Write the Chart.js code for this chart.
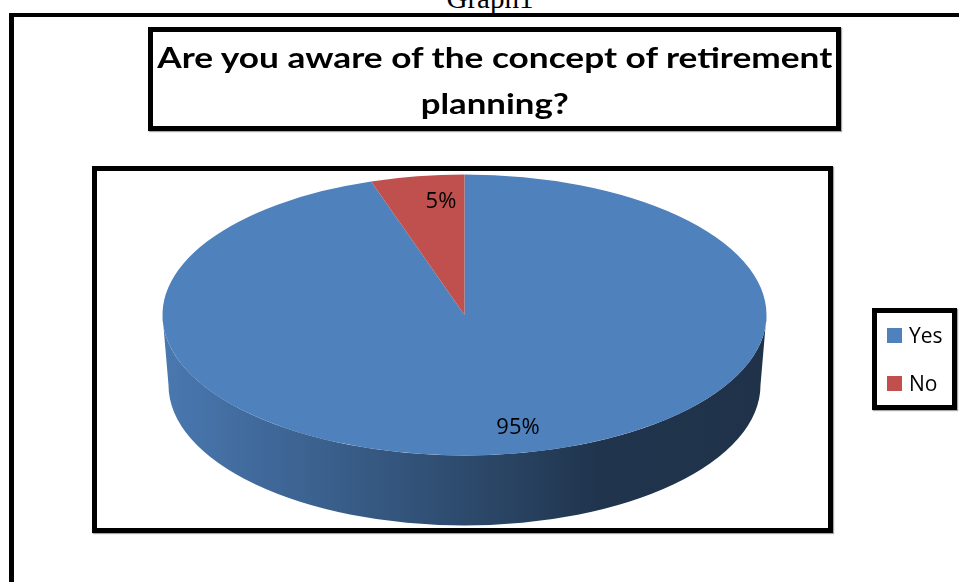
<!DOCTYPE html>
<html>
<head>
<meta charset="utf-8">
<script src="https://cdn.jsdelivr.net/npm/chart.js@4.4.1/dist/chart.umd.min.js"></script>
<style>
  html, body { margin: 0; padding: 0; background: #fff; }
  body { width: 959px; height: 582px; position: relative; overflow: hidden; font-family: 'Open Sans', sans-serif; }
  #caption { position: absolute; left: 0; top: -16px; width: 980px; text-align: center;
    font: 29px/29px 'Liberation Serif', serif; color: #000; }
  .frame { position: absolute; box-sizing: border-box; border: 5px solid #000; box-shadow: 1px 1px 1px rgba(0,0,0,0.35); }
  #outer { left: 9px; top: 13px; width: 1000px; height: 700px; border-top-width: 4px; box-shadow: none; }
  #titleBox { left: 148px; top: 27px; width: 693px; height: 104px; }
  #plotBox { left: 92px; top: 166px; width: 741px; height: 367px; }
  #legendBox { left: 872px; top: 308px; width: 85px; height: 102px; }
  .tline { position: absolute; left: 153px; width: 683px; text-align: center; white-space: nowrap;
    font: bold 29px/29px Lato, 'Open Sans', sans-serif; color: #000; }
  .tline span { display: inline-block; transform-origin: 50% 50%; }
  .litem { position: absolute; left: 887px; height: 15px; display: flex; align-items: center;
    font: 21px/15px 'Open Sans', sans-serif; color: #000; white-space: nowrap; }
  .litem i { display: inline-block; width: 15px; height: 15px; margin-right: 7px; }
  canvas { position: absolute; left: 0; top: 0; }
</style>
</head>
<body>
<div id="caption">Graph1</div>
<canvas id="c" width="959" height="582"></canvas>
<div class="frame" id="outer"></div>
<div class="frame" id="titleBox"></div>
<div class="frame" id="plotBox"></div>
<div class="frame" id="legendBox"></div>
<div class="tline" style="top:42px"><span data-w="675">Are you aware of the concept of retirement</span></div>
<div class="tline" style="top:88px"><span data-w="148">planning?</span></div>
<div id="legend"></div>
<script>
const categories = ['Yes', 'No']
const shares = [95, 5]
const sliceColors = ['#4f81bd', '#c0504d']

// 3d look of the excel pie
const RX = 302
const RY = 140.5
const DEPTH = 70
const SHRINK = 6
const LABEL_R = 0.815
const LABEL_DX = 15 // excel puts labels a bit right of the mid angle

const shade = (hex, f) => {
	const n = parseInt(hex.slice(1), 16)
	const r = Math.round(((n >> 16) & 255) * f)
	const g = Math.round(((n >> 8) & 255) * f)
	const b = Math.round((n & 255) * f)
	return `rgb(${r},${g},${b})`
}

const sideGradient = (ctx, color, cx) => {
	const grad = ctx.createLinearGradient(cx - RX, 0, cx + RX, 0)
	grad.addColorStop(0, shade(color, 0.93))
	grad.addColorStop(0.4, shade(color, 0.65))
	grad.addColorStop(0.72, shade(color, 0.41))
	grad.addColorStop(1, shade(color, 0.39))
	return grad
}

const pie3d = {
	id: 'pie3d',
	beforeDatasetsDraw(chart) {
		const ctx = chart.ctx
		const arcs = chart.getDatasetMeta(0).data
		const a = arcs[0]
		const cx = a.x
		const cy = a.y - DEPTH / 2
		const colors = chart.data.datasets[0].backgroundColor

		// front wall, only the part of each slice between 0 and PI is visible
		arcs.forEach((arc, i) => {
			for (const off of [-2 * Math.PI, 0, 2 * Math.PI]) {
				const s = Math.max(arc.startAngle + off, 0)
				const e = Math.min(arc.endAngle + off, Math.PI)
				if (e <= s) continue
				ctx.beginPath()
				ctx.ellipse(cx, cy, RX, RY, 0, s, e)
				ctx.ellipse(cx, cy + DEPTH, RX - SHRINK, RY, 0, e, s, true)
				ctx.closePath()
				ctx.fillStyle = sideGradient(ctx, colors[i], cx)
				ctx.fill()
			}
		})

		ctx.save()
		ctx.translate(cx, cy)
		ctx.scale(RX / a.outerRadius, RY / a.outerRadius)
		ctx.translate(-a.x, -a.y)
	},
	afterDatasetsDraw(chart) {
		const ctx = chart.ctx
		ctx.restore()

		const arcs = chart.getDatasetMeta(0).data
		const values = chart.data.datasets[0].data
		const total = values.reduce((s, v) => s + v, 0)
		const cx = arcs[0].x
		const cy = arcs[0].y - DEPTH / 2

		ctx.save()
		ctx.font = '22px "Open Sans"'
		ctx.fillStyle = '#000'
		ctx.textAlign = 'center'
		ctx.textBaseline = 'middle'
		arcs.forEach((arc, i) => {
			const mid = (arc.startAngle + arc.endAngle) / 2
			const x = cx + RX * LABEL_R * Math.cos(mid) + LABEL_DX
			const y = cy + RY * LABEL_R * Math.sin(mid)
			ctx.fillText(`${Math.round((values[i] / total) * 100)}%`, x, y)
		})
		ctx.restore()
	}
}

const chart = new Chart(document.getElementById('c'), {
	type: 'pie',
	data: {
		labels: categories,
		datasets: [
			{
				data: shares,
				backgroundColor: sliceColors,
				borderWidth: 0,
				clip: false
			}
		]
	},
	options: {
		responsive: false,
		animation: false,
		devicePixelRatio: 1,
		layout: {
			padding: { left: 99, right: 129, top: 171, bottom: 53 }
		},
		plugins: {
			legend: { display: false },
			title: { display: false },
			tooltip: { enabled: false }
		}
	},
	plugins: [pie3d]
})

// html legend built from the chart's own legend items
const legendEl = document.getElementById('legend')
chart.options.plugins.legend.labels.generateLabels(chart).forEach((item, i) => {
	const row = document.createElement('div')
	row.className = 'litem'
	row.style.top = `${328 + i * 48}px`
	const sw = document.createElement('i')
	sw.style.background = item.fillStyle
	row.appendChild(sw)
	row.appendChild(document.createTextNode(item.text))
	legendEl.appendChild(row)
})

// squeeze the title to the width of the calibri original
document.querySelectorAll('.tline span').forEach((el) => {
	const w = el.getBoundingClientRect().width
	el.style.transform = `scaleX(${(+el.dataset.w / w).toFixed(3)})`
})
</script>
</body>
</html>
